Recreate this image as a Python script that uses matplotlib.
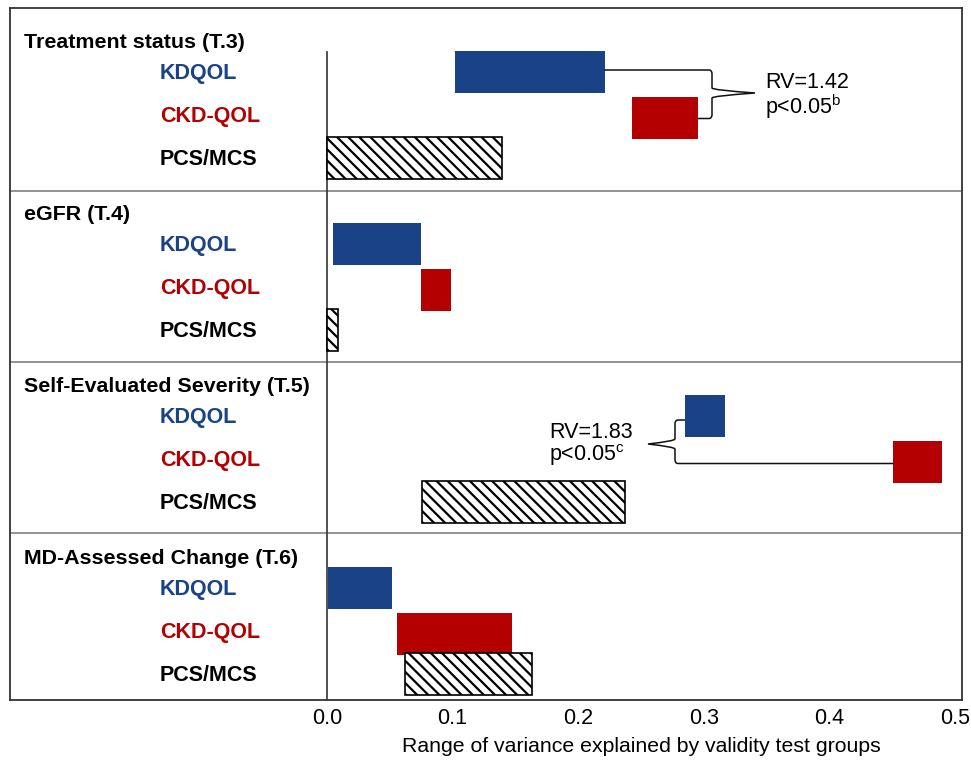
import matplotlib
matplotlib.use("Agg")
import matplotlib.pyplot as plt
from matplotlib.path import Path
from matplotlib.patches import PathPatch
import matplotlib.transforms as mtransforms

plt.rcParams['font.family'] = ['Liberation Sans', 'DejaVu Sans']
plt.rcParams['mathtext.fontset'] = 'custom'
plt.rcParams['mathtext.rm'] = 'Liberation Sans'
plt.rcParams['hatch.linewidth'] = 1.6

# ---------------- data ----------------
sections = ["Treatment status (T.3)", "eGFR (T.4)",
            "Self-Evaluated Severity (T.5)", "MD-Assessed Change (T.6)"]
instruments = ["KDQOL", "CKD-QOL", "PCS/MCS"]
# ranges (low, high) of variance explained, per section
kdqol_lo = [0.102, 0.005, 0.285, 0.001]
kdqol_hi = [0.221, 0.075, 0.317, 0.052]
ckd_lo = [0.243, 0.075, 0.451, 0.056]
ckd_hi = [0.295, 0.099, 0.490, 0.147]
pcs_lo = [0.000, 0.000, 0.076, 0.062]
pcs_hi = [0.139, 0.009, 0.237, 0.163]
xticks = [0.0, 0.1, 0.2, 0.3, 0.4, 0.5]
xtick_labels = ["0.0", "0.1", "0.2", "0.3", "0.4", "0.5"]
xlabel = "Range of variance explained by validity test groups"
ann_rv = ["RV=1.42", "RV=1.83"]
ann_p = [r"p<0.05$^{\mathregular{b}}$", r"p<0.05$^{\mathregular{c}}$"]

# ---------------- style / layout ----------------
BLUE = "#1a4287"
RED = "#b40000"
W, H = 971, 760
fig = plt.figure(figsize=(W / 100, H / 100), dpi=100)
top_px, bot_px, left_px, right_px = 8, 700, 10, 962
ax = fig.add_axes([left_px / W, 1 - bot_px / H,
                   (right_px - left_px) / W, (bot_px - top_px) / H])

x0_px, scale = 327, 1256.0   # pixel of x=0 and px per unit
def px2x(p):
    return (p - x0_px) / scale

ax.set_xlim(px2x(left_px), px2x(right_px))
ax.set_ylim(bot_px, top_px)   # layout units (top-down)

sec_period = 172
row_gap = 43
bar_h = 42
row_shift = [0, 2.5, 0]
def row_y(s, r):
    return 72 + sec_period * s + row_gap * r + row_shift[r]
def label_y(s, r):
    return 73.5 + sec_period * s + row_gap * r
def title_y(s):
    return 42 + sec_period * s
sep_y = [191 + 171 * s for s in range(3)]

lows = [kdqol_lo, ckd_lo, pcs_lo]
highs = [kdqol_hi, ckd_hi, pcs_hi]
for s in range(len(sections)):
    for r in range(3):
        lo, hi = lows[r][s], highs[r][s]
        y = row_y(s, r)
        if r == 0:
            ax.barh(y, hi - lo, left=lo, height=bar_h, color=BLUE, lw=0, zorder=3)
        elif r == 1:
            ax.barh(y, hi - lo, left=lo, height=bar_h, color=RED, lw=0, zorder=3)
        else:
            ax.barh(y, hi - lo, left=lo, height=bar_h, facecolor="white",
                    edgecolor="black", hatch="\\\\\\", lw=1.2, zorder=3)

# section titles and row labels
label_colors = [BLUE, RED, "black"]
for s, name in enumerate(sections):
    ax.text(px2x(24), title_y(s), name, fontsize=15.4, fontweight="bold",
            ha="left", va="center", zorder=4)
    for r, inst in enumerate(instruments):
        ax.text(px2x(160), label_y(s, r), inst, fontsize=15.5, fontweight="bold",
                color=label_colors[r], ha="left", va="center", zorder=4)

# separators
for y in sep_y:
    ax.axhline(y, color="#8a8a8a", lw=1.3, zorder=2)
# zero line
ax.plot([0, 0], [52, bot_px], color="#333333", lw=1.2, zorder=2)

# braces
def brace(ax, xa, ya, xb, yb, xv, xtip, ytip):
    d = 3 / scale * (1 if xv > xa else -1)
    dy = 4
    verts = [(xa, ya), (xv - d, ya), (xv, ya), (xv, ya + dy),
             (xv, ytip - 5), (xv, ytip - 3), (xtip, ytip),
             (xv, ytip + 3), (xv, ytip + 5),
             (xv, yb - dy), (xv, yb), (xv - d, yb), (xb, yb)]
    codes = [Path.MOVETO, Path.LINETO, Path.CURVE3, Path.CURVE3,
             Path.LINETO, Path.CURVE3, Path.CURVE3,
             Path.CURVE3, Path.CURVE3,
             Path.LINETO, Path.CURVE3, Path.CURVE3, Path.LINETO]
    ax.add_patch(PathPatch(Path(verts, codes), fill=False, lw=1.1,
                           edgecolor="#111111", zorder=4))

brace(ax, kdqol_hi[0], row_y(0, 0) - 2, ckd_hi[0], row_y(0, 1) + 1,
      px2x(712), px2x(755), 93)
brace(ax, kdqol_lo[2], row_y(2, 0) + 4, ckd_lo[2], row_y(2, 1) + 2,
      px2x(675), px2x(648), 444)

ax.text(px2x(765), 83, ann_rv[0], fontsize=15.5, ha="left", va="center")
ax.text(px2x(765), 107, ann_p[0], fontsize=15.5, ha="left", va="center")
ax.text(px2x(549), 432, ann_rv[1], fontsize=15.5, ha="left", va="center")
ax.text(px2x(549), 455, ann_p[1], fontsize=15.5, ha="left", va="center")

# axes styling
ax.set_yticks([])
ax.set_xticks(xticks)
ax.set_xticklabels(xtick_labels, fontsize=15.5)
ax.tick_params(axis="x", length=0, pad=6)
for sp in ax.spines.values():
    sp.set_color("#333333")
    sp.set_linewidth(1.3)

trans = mtransforms.blended_transform_factory(ax.transData, ax.transAxes)
ax.text(0.25, -(746 - bot_px) / (bot_px - top_px), xlabel, transform=trans,
        fontsize=15.3, ha="center", va="center")

fig.savefig("out.png", dpi=100)
